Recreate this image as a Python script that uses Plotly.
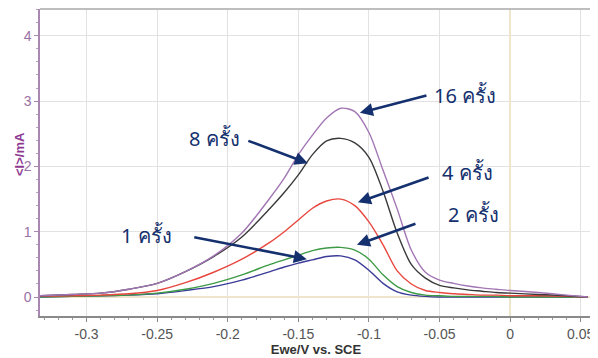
import plotly.graph_objects as go

# Potential (V vs SCE)
potential = [-0.333, -0.31, -0.29, -0.27, -0.25, -0.23, -0.21, -0.19, -0.17, -0.16,
             -0.15, -0.14, -0.13, -0.12, -0.11, -0.10, -0.09, -0.08, -0.07, -0.06,
             -0.05, -0.04, -0.03, -0.02, -0.01, 0.0, 0.02, 0.04, 0.055]

# Current (mA) for each number of cycles
cur_16 = [0.02, 0.04, 0.06, 0.12, 0.21, 0.39, 0.63, 0.98, 1.52, 1.82,
          2.18, 2.48, 2.74, 2.89, 2.84, 2.52, 1.94, 1.35, 0.72, 0.38,
          0.26, 0.21, 0.17, 0.14, 0.12, 0.10, 0.07, 0.03, 0.0]
cur_8 = [0.02, 0.04, 0.06, 0.12, 0.21, 0.39, 0.62, 0.92, 1.36, 1.60,
         1.87, 2.18, 2.39, 2.43, 2.36, 2.14, 1.62, 0.98, 0.50, 0.29,
         0.18, 0.14, 0.11, 0.09, 0.07, 0.06, 0.04, 0.02, 0.0]
cur_4 = [0.01, 0.02, 0.03, 0.05, 0.10, 0.22, 0.38, 0.58, 0.84, 1.00,
         1.18, 1.36, 1.47, 1.50, 1.40, 1.15, 0.80, 0.40, 0.20, 0.10,
         0.07, 0.05, 0.04, 0.03, 0.03, 0.02, 0.02, 0.01, 0.0]
cur_2 = [0.0, 0.01, 0.02, 0.03, 0.06, 0.12, 0.21, 0.34, 0.50, 0.57,
         0.64, 0.71, 0.75, 0.76, 0.72, 0.58, 0.34, 0.16, 0.07, 0.03,
         0.02, 0.01, 0.01, 0.01, 0.01, 0.0, 0.0, 0.0, 0.0]
cur_1 = [0.0, 0.01, 0.02, 0.03, 0.05, 0.10, 0.16, 0.26, 0.39, 0.46,
         0.52, 0.57, 0.62, 0.63, 0.57, 0.41, 0.21, 0.08, 0.03, 0.01,
         0.0, 0.0, 0.0, 0.0, 0.0, 0.0, 0.0, 0.0, 0.0]

series_names = ["1 ครั้ง", "2 ครั้ง", "4 ครั้ง", "8 ครั้ง", "16 ครั้ง"]
series_values = [cur_1, cur_2, cur_4, cur_8, cur_16]
series_colors = ["#3b3b98", "#3d9a45", "#e8473f", "#3a3a3a", "#a276b4"]

x_ticks = [-0.3, -0.25, -0.2, -0.15, -0.1, -0.05, 0, 0.05]
x_ticklabels = ["-0.3", "-0.25", "-0.2", "-0.15", "-0.1", "-0.05", "0", "0.05"]
y_ticks = [0, 1, 2, 3, 4]

# annotation layout: (label, text_x, text_y, tail_x, tail_y, head_x, head_y)
labels = [
    ("16 ครั้ง", -0.0319, 3.09, -0.0582, 3.09, -0.1064, 2.82),
    ("8 ครั้ง", -0.2092, 2.43, -0.1865, 2.40, -0.1433, 2.05),
    ("4 ครั้ง", -0.0305, 1.90, -0.0567, 1.84, -0.1078, 1.45),
    ("2 ครั้ง", -0.0262, 1.26, -0.0660, 1.13, -0.1085, 0.80),
    ("1 ครั้ง", -0.2574, 0.95, -0.2248, 0.92, -0.1440, 0.58),
]

fig = go.Figure()
for name, vals, col in zip(series_names, series_values, series_colors):
    fig.add_trace(go.Scatter(x=potential, y=vals, mode="lines", name=name,
                             line=dict(color=col, width=1.4, shape="spline", smoothing=0.8)))

navy = "#14306e"
anns = []
for txt, tx, ty, ax, ay, hx, hy in labels:
    anns.append(dict(x=tx, y=ty, xref="x", yref="y", text=txt, showarrow=False,
                     font=dict(size=20, color=navy, family="Noto Sans, Liberation Sans, Arial")))
    anns.append(dict(x=hx, y=hy, xref="x", yref="y", ax=ax, ay=ay, axref="x", ayref="y",
                     text="", showarrow=True, arrowhead=2, arrowsize=1.0, arrowwidth=2.6,
                     arrowcolor=navy))
# y-axis title
anns.append(dict(x=-0.036, y=0.528, xref="paper", yref="paper", text="<b>&lt;I&gt;/mA</b>",
                 textangle=-90, showarrow=False, xanchor="center", yanchor="middle",
                 font=dict(size=13, color="#8e3a92", family="Liberation Sans, Arial")))

fig.update_layout(
    width=590, height=350,
    margin=dict(l=32, r=6, t=1, b=42),
    paper_bgcolor="white", plot_bgcolor="white",
    showlegend=False,
    annotations=anns,
    shapes=[
        dict(type="line", xref="paper", yref="paper", x0=0, x1=1, y0=1, y1=1,
             line=dict(color="#a8a8a8", width=1.5)),
        dict(type="line", xref="paper", yref="paper", x0=1, x1=1, y0=0, y1=1,
             line=dict(color="#c0c0c0", width=1.5)),
    ],
)
fig.update_xaxes(
    automargin=False,
    range=[-0.333, 0.058], tickvals=x_ticks, ticktext=x_ticklabels,
    showgrid=True, gridcolor="#e2e2e2", gridwidth=1,
    zeroline=True, zerolinecolor="#efe4cc", zerolinewidth=1.5,
    showline=True, linecolor="#8a8a8a", linewidth=1.5,
    ticks="outside", ticklen=4, tickcolor="#8a8a8a",
    minor=dict(dtick=0.01, ticks="outside", ticklen=2, tickcolor="#9a9a9a", showgrid=False),
    tickfont=dict(size=14, color="#555555", family="Liberation Sans Narrow, Liberation Sans, Arial"),
    title=dict(text="<b>Ewe/V vs. SCE</b>", font=dict(size=13, color="#333333",
               family="Liberation Sans, Arial"), standoff=0),
)
fig.update_yaxes(
    automargin=False,
    range=[-0.29, 4.41], tickvals=y_ticks,
    showgrid=True, gridcolor="#e2e2e2", gridwidth=1,
    zeroline=True, zerolinecolor="#efe4cc", zerolinewidth=1.5,
    showline=True, linecolor="#a888b0", linewidth=1.5,
    ticks="outside", ticklen=4, tickcolor="#a888b0",
    minor=dict(dtick=0.2, ticks="outside", ticklen=2, tickcolor="#b8a0c0", showgrid=False),
    tickfont=dict(size=14, color="#9b70a3", family="Liberation Sans Narrow, Liberation Sans, Arial"),
)

fig.write_html("out.html")
